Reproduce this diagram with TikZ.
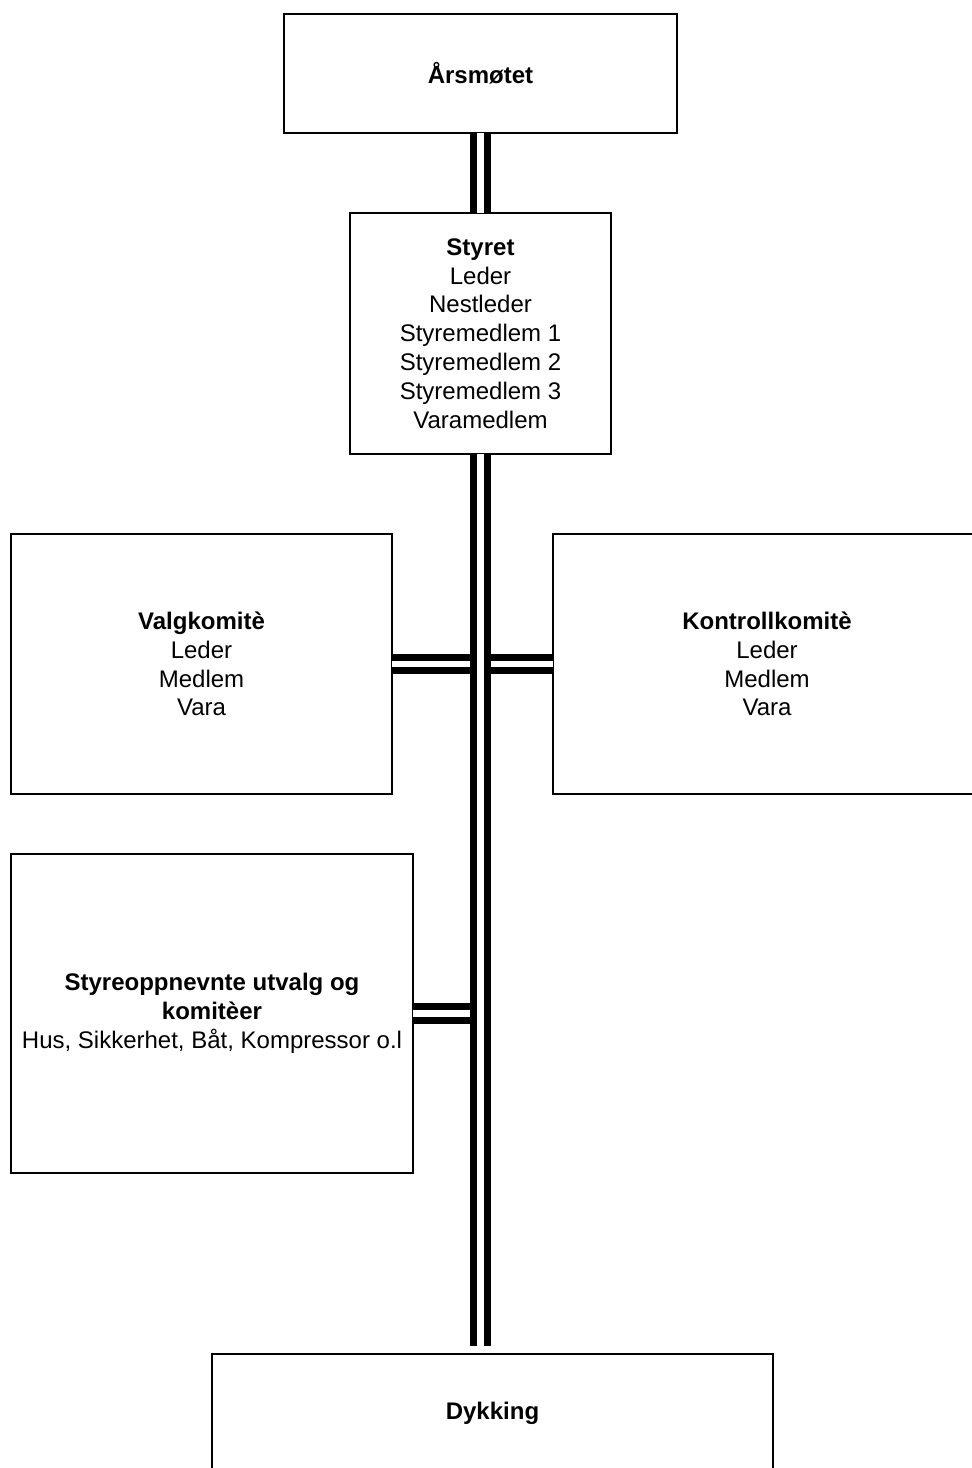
\documentclass[tikz,border=0pt]{standalone}
\usepackage{fontspec}
\setmainfont{Liberation Sans}
\usetikzlibrary{positioning}
\tikzset{
    org box/.style = {
        draw,
        line width=1.5pt,
        align=center,
        inner sep=0pt,
        outer sep=0pt,
        font=\fontsize{24}{28.8}\selectfont,
        },
    link/.style = {
        double,
        line width=7pt,
        double distance=6.5pt,
        },
}

\begin{document}
\begin{tikzpicture}[x=1pt, y=-1pt]
            \useasboundingbox (0,0) rectangle (972,1468);

            \node[org box, minimum width=393pt, minimum height=119pt] (aars) at (480.5,73.5) {\textbf{Årsmøtet}};
            \node[org box, minimum width=261pt, minimum height=241pt, below=80pt of aars] (styret)
                {\textbf{Styret}\\Leder\\Nestleder\\Styremedlem 1\\Styremedlem 2\\Styremedlem 3\\Varamedlem};
            \node[org box, minimum width=381pt, minimum height=260pt, below left=80pt and -42pt of styret] (valg)
                {\textbf{Valgkomitè}\\Leder\\Medlem\\Vara};
            \node[org box, minimum width=428pt, minimum height=260pt, below right=80pt and -58pt of styret] (kontroll)
                {\textbf{Kontrollkomitè}\\Leder\\Medlem\\Vara};
            \node[org box, minimum width=402pt, minimum height=319pt, below=60pt of valg.south west, anchor=north west] (utvalg)
                {\textbf{Styreoppnevnte utvalg og}\\\textbf{komitèer}\\Hus, Sikkerhet, Båt, Kompressor o.l};
            \node[org box, minimum width=561pt, minimum height=118pt, anchor=north] (dykking) at (492.5,1354) {\textbf{Dykking}};

            \path (valg) edge[link] (valg -| styret);
            \path (kontroll) edge[link] (kontroll -| styret);
            \path (utvalg) edge[link] (utvalg -| styret);
            \path (aars) edge[link] (styret);
            \path (styret) edge[link, shorten >=8pt] (styret.south |- dykking.north);
        \end{tikzpicture}
\end{document}
